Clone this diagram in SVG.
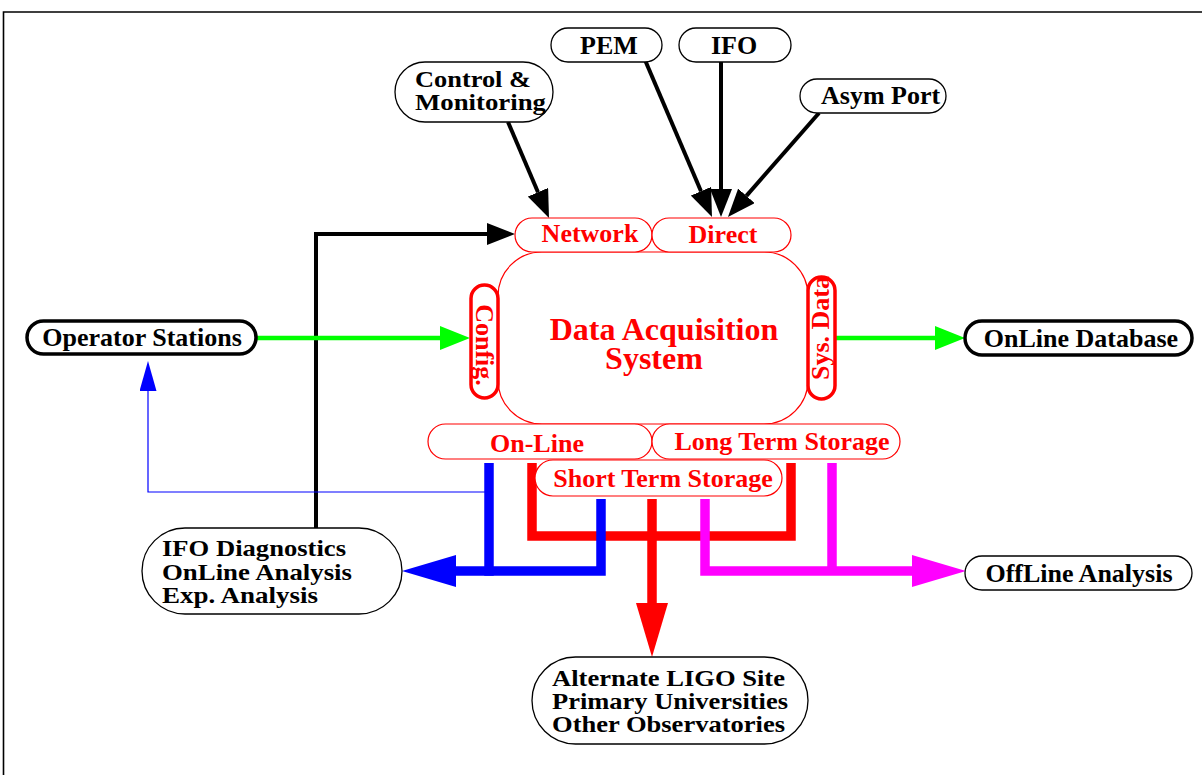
<svg xmlns="http://www.w3.org/2000/svg" width="1202" height="775" viewBox="0 0 1202 775">
<style>
.nb{fill:#fff;stroke:#000;stroke-width:1.3}
.nbt{fill:#fff;stroke:#000;stroke-width:3.5}
.nr{fill:#fff;stroke:#f00;stroke-width:1.2}
.nrt{fill:#fff;stroke:#f00;stroke-width:3.5}
.t{font-family:"Liberation Serif","Times New Roman",serif;font-weight:bold;font-size:26px}
.m{font-size:23.5px}
.tb{fill:#000}
.tr{fill:#f00}
.c{fill:none;stroke-linejoin:miter;stroke-linecap:butt}
.k{stroke:#000;stroke-width:4}
.g{stroke:#00ff00;stroke-width:4.5}
.bt{stroke:#0000ff;stroke-width:1.2}
.B{stroke:#0000ff;stroke-width:9.5}
.R{stroke:#ff0000;stroke-width:9.5}
.M{stroke:#ff00ff;stroke-width:9.5}
</style>
<defs>
<marker id="aK" markerUnits="userSpaceOnUse" markerWidth="28" markerHeight="22" viewBox="0 0 28 22" refX="0" refY="11" orient="auto"><path d="M0,0 L28,11 L0,22 z" fill="#000"/></marker>
<marker id="aG" markerUnits="userSpaceOnUse" markerWidth="30" markerHeight="24" viewBox="0 0 30 24" refX="0" refY="12" orient="auto"><path d="M0,0 L30,12 L0,24 z" fill="#00ff00"/></marker>
<marker id="aBs" markerUnits="userSpaceOnUse" markerWidth="30" markerHeight="17" viewBox="0 0 30 17" refX="0" refY="8.5" orient="auto"><path d="M0,0 L30,8.5 L0,17 z" fill="#0000ff"/></marker>
<marker id="aB" markerUnits="userSpaceOnUse" markerWidth="54" markerHeight="32" viewBox="0 0 54 32" refX="0" refY="16" orient="auto"><path d="M0,0 L54,16 L0,32 z" fill="#0000ff"/></marker>
<marker id="aR" markerUnits="userSpaceOnUse" markerWidth="54" markerHeight="32" viewBox="0 0 54 32" refX="0" refY="16" orient="auto"><path d="M0,0 L54,16 L0,32 z" fill="#ff0000"/></marker>
<marker id="aM" markerUnits="userSpaceOnUse" markerWidth="54" markerHeight="32" viewBox="0 0 54 32" refX="0" refY="16" orient="auto"><path d="M0,0 L54,16 L0,32 z" fill="#ff00ff"/></marker>
</defs>
<rect width="1202" height="775" fill="#fff"/>
<path d="M3.5,775 V12 H1202" fill="none" stroke="#000" stroke-width="1.6"/>

<g id="connectors">
<path class="c k" d="M508,122 L538,192.2" marker-end="url(#aK)"/>
<path class="c k" d="M645,60 L701,191.2" marker-end="url(#aK)"/>
<path class="c k" d="M721,62 L721,189" marker-end="url(#aK)"/>
<path class="c k" d="M819,113 L746.4,195.9" marker-end="url(#aK)"/>
<path class="c k" d="M316,528 V234 H487" marker-end="url(#aK)"/>
<path class="c g" d="M256,338 H440" marker-end="url(#aG)"/>
<path class="c g" d="M836,338 H935" marker-end="url(#aG)"/>
<path class="c bt" d="M489,492 H148 V391" marker-end="url(#aBs)"/>
<path class="c R" d="M532,463 V536 H791 V463"/>
<path class="c R" d="M652,499 V603" marker-end="url(#aR)"/>
<path class="c B" d="M489,463 V575.7"/>
<path class="c B" d="M601,499 V571 H456" marker-end="url(#aB)"/>
<path class="c M" d="M832,463 V571"/>
<path class="c M" d="M705,499 V571 H912" marker-end="url(#aM)"/>
</g>

<g id="control">
<rect class="nb" x="395" y="62" width="158" height="60" rx="30"/>
<text class="t m tb" x="415" y="87" textLength="116" lengthAdjust="spacingAndGlyphs">Control &amp;</text>
<text class="t m tb" x="415" y="110" textLength="131" lengthAdjust="spacingAndGlyphs">Monitoring</text>
</g>
<g id="pem">
<rect class="nb" x="551" y="28" width="111" height="34" rx="17"/>
<text class="t tb" x="609" y="53.5" text-anchor="middle">PEM</text>
</g>
<g id="ifo">
<rect class="nb" x="679" y="28" width="112" height="34" rx="17"/>
<text class="t tb" x="734" y="53.5" text-anchor="middle">IFO</text>
</g>
<g id="asym">
<rect class="nb" x="800" y="79" width="146" height="34" rx="17"/>
<text class="t tb" x="821" y="104">Asym Port</text>
</g>
<g id="operator">
<rect class="nbt" x="27" y="321" width="229" height="33" rx="16.5"/>
<text class="t tb" x="142" y="346" text-anchor="middle">Operator Stations</text>
</g>
<g id="onlinedb">
<rect class="nbt" x="965" y="321" width="227" height="34" rx="17"/>
<text class="t tb" x="1081" y="347" text-anchor="middle">OnLine Database</text>
</g>
<g id="offline">
<rect class="nb" x="965" y="556" width="227" height="34" rx="17"/>
<text class="t tb" x="1079" y="582" text-anchor="middle">OffLine Analysis</text>
</g>
<g id="diagnostics">
<rect class="nb" x="142" y="528" width="260" height="86" rx="43"/>
<text class="t m tb" x="162" y="556" textLength="184" lengthAdjust="spacingAndGlyphs">IFO Diagnostics</text>
<text class="t m tb" x="162" y="580" textLength="190" lengthAdjust="spacingAndGlyphs">OnLine Analysis</text>
<text class="t m tb" x="162" y="603" textLength="156" lengthAdjust="spacingAndGlyphs">Exp. Analysis</text>
</g>
<g id="alternate">
<rect class="nb" x="532" y="657" width="276" height="87" rx="43.5"/>
<text class="t m tb" x="552" y="686" textLength="233" lengthAdjust="spacingAndGlyphs">Alternate LIGO Site</text>
<text class="t m tb" x="552" y="709" textLength="236" lengthAdjust="spacingAndGlyphs">Primary Universities</text>
<text class="t m tb" x="552" y="732" textLength="233" lengthAdjust="spacingAndGlyphs">Other Observatories</text>
</g>

<g id="daq">
<rect class="nr" x="498" y="252" width="310" height="172" rx="44"/>
<text class="t tr" x="664" y="340" text-anchor="middle" style="font-size:32px">Data Acquisition</text>
<text class="t tr" x="654" y="369" text-anchor="middle" style="font-size:32px">System</text>
</g>
<g id="network">
<rect class="nr" x="515" y="218" width="137" height="34" rx="17"/>
<text class="t tr" x="590" y="242" text-anchor="middle">Network</text>
</g>
<g id="direct">
<rect class="nr" x="652" y="218" width="139" height="34" rx="17"/>
<text class="t tr" x="723" y="243" text-anchor="middle">Direct</text>
</g>
<g id="config">
<rect class="nrt" x="471" y="285" width="27" height="113" rx="13.5"/>
<text class="t tr" transform="translate(476,345) rotate(90)" text-anchor="middle">Config.</text>
</g>
<g id="sysdata">
<rect class="nrt" x="808" y="277" width="27" height="122" rx="13.5"/>
<text class="t tr" transform="translate(829,328) rotate(-90)" text-anchor="middle">Sys. Data</text>
</g>
<g id="online">
<rect class="nr" x="428" y="424" width="224" height="35" rx="17.5"/>
<text class="t tr" x="537" y="452" text-anchor="middle">On-Line</text>
</g>
<g id="longterm">
<rect class="nr" x="652" y="424" width="248" height="35" rx="17.5"/>
<text class="t tr" x="782" y="450" text-anchor="middle">Long Term Storage</text>
</g>
<g id="shortterm">
<rect class="nr" x="535" y="460" width="247" height="36" rx="18"/>
<text class="t tr" x="663" y="487" text-anchor="middle">Short Term Storage</text>
</g>
</svg>
